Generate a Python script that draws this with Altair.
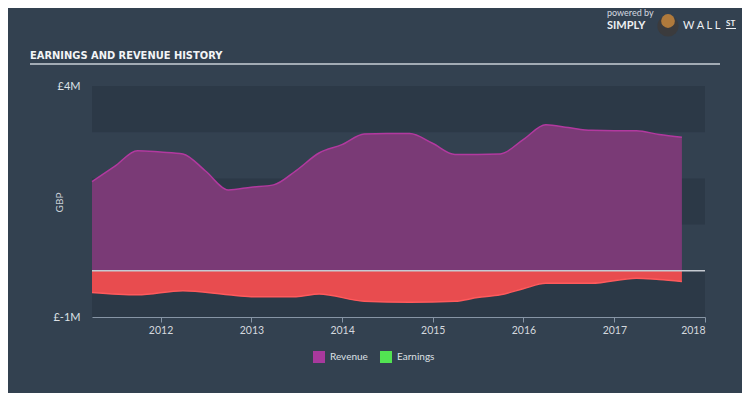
import altair as alt
import pandas as pd

# ---- data ----
rev_dates = ["2011-03-31", "2011-06-30", "2011-09-30", "2011-12-31", "2012-03-31",
             "2012-06-30", "2012-09-30", "2012-12-31", "2013-03-31", "2013-06-30",
             "2013-09-30", "2013-12-31", "2014-03-31", "2014-06-30", "2014-09-30",
             "2014-12-31", "2015-03-31", "2015-06-30", "2015-09-30", "2015-12-31",
             "2016-03-31", "2016-06-30", "2016-09-30", "2016-12-31", "2017-03-31",
             "2017-06-30", "2017-09-30"]
rev_values = [1.93, 2.26, 2.60, 2.57, 2.53, 2.16, 1.75, 1.81, 1.86, 2.17, 2.55, 2.73,
              2.96, 2.97, 2.97, 2.76, 2.52, 2.52, 2.53, 2.84, 3.16, 3.10, 3.04, 3.03,
              3.03, 2.95, 2.89]

earn_dates = ["2011-03-31", "2011-09-30", "2012-03-31", "2012-09-30", "2012-12-31",
              "2013-06-30", "2013-09-30", "2014-03-31", "2014-09-30", "2015-03-31",
              "2015-06-30", "2015-09-30", "2015-12-31", "2016-03-31", "2016-09-30",
              "2017-03-31", "2017-06-30", "2017-09-30"]
earn_values = [-0.47, -0.52, -0.43, -0.52, -0.56, -0.56, -0.50, -0.66, -0.68, -0.66,
               -0.58, -0.52, -0.39, -0.27, -0.27, -0.16, -0.19, -0.23]

band_top = [4, 2, 0]
band_bottom = [3, 1, -1]
years = [2012, 2013, 2014, 2015, 2016, 2017, 2018]
series_names = ["Revenue", "Earnings"]
legend_colors = ["#a8399d", "#52e352"]

rev = pd.DataFrame({"date": rev_dates, "value": rev_values})
earn = pd.DataFrame({"date": earn_dates, "value": earn_values})
bands = pd.DataFrame({"top": band_top, "bottom": band_bottom})
legend_df = pd.DataFrame({"date": ["2010-01-01", "2010-01-01"], "value": [0, 0],
                          "series": series_names})

FONT = "Lato"
BG = "#334150"

x_scale = alt.Scale(type="utc",
                    domain=[alt.DateTime(year=2011, month=3, date=31, utc=True),
                            alt.DateTime(year=2018, month=1, date=1, utc=True)])
y_scale = alt.Scale(domain=[-1, 4], nice=False)

x_axis = alt.Axis(values=[alt.DateTime(year=y, month=1, date=1, utc=True) for y in years],
                  format="%Y", formatType="utc", title=None, grid=False,
                  domainColor="#8795a5", tickColor="#8795a5", tickSize=5,
                  labelPadding=3, labelFont=FONT, labelFontSize=10.5,
                  labelColor="#d3d8de", labelFlush=True)
y_axis = alt.Axis(values=[-1, 4], labelExpr="'£' + datum.value + 'M'", grid=False,
                  domain=False, ticks=False, labelPadding=12, labelFont=FONT,
                  labelFontSize=11, labelColor="#dde1e6", labelBaseline="middle",
                  title="GBP", titleX=-33, titleY=116, titleFont=FONT,
                  titleFontSize=10, titleFontWeight="normal", titleColor="#c9cfd6",
                  titleAlign="center", titleBaseline="middle", titleAngle=270)

band_layer = alt.Chart(bands).mark_rect(color="#2c3947").encode(
    y=alt.Y("top:Q", scale=y_scale, axis=y_axis), y2="bottom:Q")

rev_area = alt.Chart(rev).mark_area(interpolate="monotone", color="#7a3a76").encode(
    x=alt.X("date:T", scale=x_scale, axis=x_axis),
    y=alt.Y("value:Q", scale=y_scale), y2=alt.datum(0))
earn_area = alt.Chart(earn).mark_area(interpolate="monotone", color="#e84c4f").encode(
    x=alt.X("date:T", scale=x_scale), y=alt.Y("value:Q", scale=y_scale), y2=alt.datum(0))
rev_line = alt.Chart(rev).mark_line(interpolate="monotone", color="#b2399f",
                                    strokeWidth=1.5).encode(
    x=alt.X("date:T", scale=x_scale), y=alt.Y("value:Q", scale=y_scale))
earn_line = alt.Chart(earn).mark_line(interpolate="monotone", color="#ff5a5c",
                                      strokeWidth=1.5).encode(
    x=alt.X("date:T", scale=x_scale), y=alt.Y("value:Q", scale=y_scale))
zero_rule = alt.Chart(pd.DataFrame({"v": [0]})).mark_rule(
    color="#c5cad1", strokeWidth=1.5).encode(y=alt.Y("v:Q", scale=y_scale))

legend_layer = alt.Chart(legend_df).mark_square(clip=True, size=144, opacity=1).encode(
    x=alt.X("date:T", scale=x_scale), y=alt.Y("value:Q", scale=y_scale),
    color=alt.Color("series:N",
                    scale=alt.Scale(domain=series_names, range=legend_colors),
                    legend=alt.Legend(title=None, orient="none", direction="horizontal",
                                      legendX=221, legendY=265, symbolType="square",
                                      symbolSize=144, symbolStrokeWidth=0,
                                      labelFont=FONT, labelFontSize=10,
                                      labelColor="#dce0e5", labelOffset=5,
                                      columnPadding=12, padding=0)))

one = pd.DataFrame({"a": [0]})
title_text = alt.Chart(one).mark_text(
    text="EARNINGS AND REVENUE HISTORY", font="DejaVu Sans Condensed, Liberation Sans",
    fontWeight="bold", fontSize=11, color="#f2f4f6", align="left",
    baseline="alphabetic").encode(x=alt.value(-62), y=alt.value(-27))
title_rule = alt.Chart(one).mark_rule(color="#c9cfd6", strokeWidth=1.5).encode(
    x=alt.value(-62), x2=alt.value(628), y=alt.value(-22))
powered = alt.Chart(one).mark_text(
    text="powered by", font=FONT, fontSize=9, color="#d5dae0", align="left",
    baseline="alphabetic").encode(x=alt.value(515), y=alt.value(-70))
simply = alt.Chart(one).mark_text(
    text="SIMPLY", font=FONT, fontSize=11, fontWeight="bold", color="#eef0f3",
    align="left", baseline="alphabetic").encode(x=alt.value(515), y=alt.value(-57))
wall = alt.Chart(one).mark_text(
    text="W A L L", font=FONT, fontSize=11, color="#eef0f3", align="left",
    baseline="alphabetic").encode(x=alt.value(591), y=alt.value(-57))
st = alt.Chart(one).mark_text(
    text="ST", font=FONT, fontSize=8, fontWeight="bold", color="#eef0f3", align="left",
    baseline="alphabetic").encode(x=alt.value(634), y=alt.value(-60))
st_rule = alt.Chart(one).mark_rule(color="#eef0f3", strokeWidth=1).encode(
    x=alt.value(634), x2=alt.value(644), y=alt.value(-57.5))
bull_body = alt.Chart(one).mark_point(filled=True, size=450, color="#3b3b3d",
                                      opacity=1).encode(
    x=alt.value(576), y=alt.value(-60))
bull_head = alt.Chart(one).mark_point(filled=True, size=190, color="#b07a3c",
                                      opacity=1).encode(
    x=alt.value(576), y=alt.value(-65))

chart = alt.layer(
    band_layer, rev_area, earn_area, rev_line, earn_line, zero_rule, legend_layer,
    title_text, title_rule, powered, simply, wall, st, st_rule, bull_body, bull_head
).properties(
    width=613, height=231, background=BG,
    autosize=alt.AutoSizeParams(type="none"),
    padding={"left": 84, "top": 78, "right": 37, "bottom": 76}
).configure_view(stroke=None)

chart.save("out.html", embed_options={"renderer": "svg", "actions": False})
